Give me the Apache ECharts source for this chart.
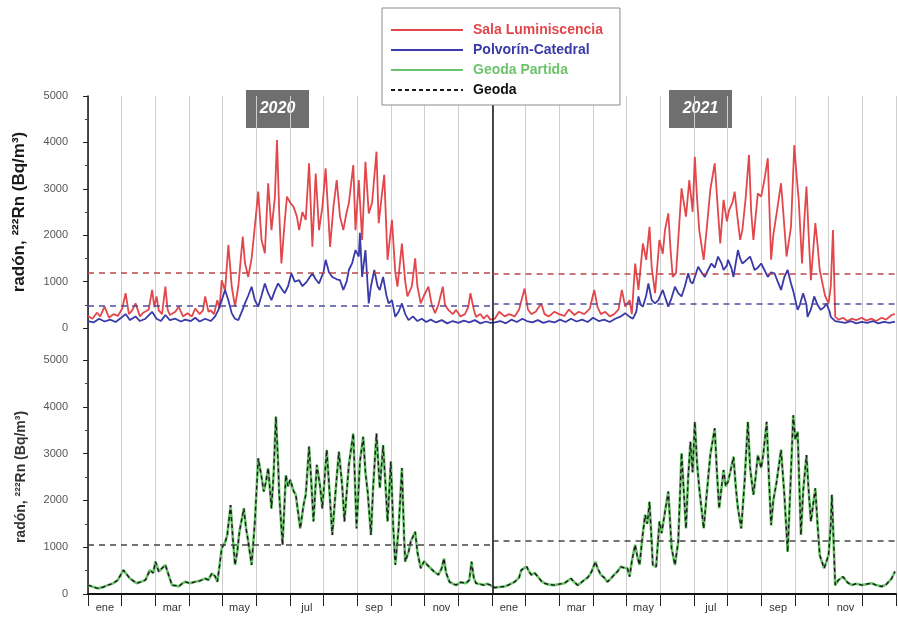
<!DOCTYPE html>
<html>
<head>
<meta charset="utf-8">
<script src="https://cdn.jsdelivr.net/npm/echarts@6/dist/echarts.min.js"></script>
<style>
  html, body { margin: 0; padding: 0; background: #ffffff; }
  #chart { width: 898px; height: 619px; }
</style>
</head>
<body>
<div id="chart"></div>
<script>
// Radon concentration (Bq/m³), days counted from 1 Jan 2020 (2021 starts at day 366).
const monthNames = ['ene', 'feb', 'mar', 'abr', 'may', 'jun', 'jul', 'ago', 'sep', 'oct', 'nov', 'dic'];
const years = ['2020', '2021'];
const yearStartDays = [0, 366, 731];

const salaLuminiscencia = [
  [0,260],[4,200],[8,330],[11,250],[15,460],[19,220],[23,300],[27,260],[31,420],[34,750],[37,300],[40,380],[43,530],[47,250],[50,330],[55,400],[58,820],[60,450],[62,680],[64,380],[67,300],[70,890],[72,400],[74,280],[79,350],[82,460],[86,250],[90,320],[94,250],[97,420],[101,300],[104,380],[106,680],[109,350],[111,380],[114,300],[117,600],[119,420],[121,1030],[124,800],[127,1790],[130,900],[133,460],[136,900],[140,1970],[142,1400],[145,1100],[148,1500],[151,2200],[154,2940],[157,1900],[160,1610],[163,3120],[166,2110],[169,2800],[171,4050],[173,2500],[175,1390],[178,2300],[180,2830],[183,2700],[186,2610],[189,2400],[191,2110],[194,2500],[197,2330],[200,3550],[203,1750],[206,3330],[209,2110],[212,2600],[215,3440],[219,1750],[222,2600],[225,3190],[228,2400],[231,2110],[234,2500],[236,2690],[240,3510],[242,2110],[245,3190],[248,1900],[251,3580],[254,2470],[257,2700],[261,3800],[263,2260],[266,2900],[268,3300],[271,1470],[275,2330],[278,1200],[280,890],[284,1820],[287,1000],[289,680],[293,900],[296,1500],[298,900],[301,530],[304,700],[308,890],[311,500],[314,320],[317,500],[321,890],[323,500],[326,390],[330,300],[333,390],[337,250],[341,300],[344,450],[346,750],[349,400],[351,240],[355,300],[358,200],[361,280],[364,180],
  [368,200],[372,350],[377,250],[381,300],[386,250],[390,400],[395,850],[398,400],[401,300],[405,350],[410,530],[413,300],[417,250],[422,350],[426,300],[431,260],[435,400],[440,280],[444,350],[449,300],[454,420],[458,820],[461,450],[464,300],[468,350],[472,250],[476,300],[480,400],[483,820],[486,460],[490,600],[492,300],[495,1390],[498,820],[502,1820],[505,1470],[508,2180],[510,1300],[513,750],[517,1900],[520,1600],[522,2110],[525,2470],[527,1700],[529,1100],[532,1180],[534,1900],[537,3010],[539,2700],[541,2400],[544,3190],[547,2500],[549,3690],[551,2800],[553,2110],[557,1470],[560,2200],[563,2980],[567,3550],[570,2500],[572,1820],[575,2760],[578,2300],[580,2540],[583,2700],[585,2940],[588,2300],[590,1900],[592,2110],[595,2800],[598,3730],[600,2500],[602,1900],[606,2900],[609,2830],[612,3200],[615,3660],[618,1470],[620,2000],[623,2470],[627,3120],[629,2500],[632,1540],[636,2180],[639,3940],[641,3300],[643,2760],[646,1390],[648,2300],[650,3050],[652,2000],[654,1030],[658,2260],[660,1800],[662,1250],[665,900],[667,680],[670,530],[672,900],[674,2110],[676,240],[679,180],[683,220],[687,150],[691,200],[695,170],[700,220],[704,160],[709,200],[713,150],[718,220],[722,180],[727,280],[730,300]
];

const polvorinCatedral = [
  [0,150],[5,120],[10,200],[15,140],[20,180],[25,130],[30,220],[34,300],[38,170],[43,250],[47,150],[52,200],[58,350],[62,200],[66,150],[70,280],[74,170],[79,200],[84,140],[88,180],[93,150],[97,220],[101,140],[106,200],[111,150],[115,250],[118,390],[121,600],[124,820],[127,600],[130,320],[133,200],[136,170],[140,400],[142,530],[145,700],[148,890],[151,600],[154,460],[157,700],[160,960],[163,750],[166,600],[169,800],[172,960],[175,850],[178,750],[181,900],[184,1180],[187,1000],[191,1030],[194,900],[198,1000],[203,1180],[206,1050],[209,960],[213,1200],[215,1470],[218,1200],[221,1100],[225,1050],[228,1030],[231,820],[234,1000],[236,1250],[239,1400],[242,1680],[245,1540],[246,2050],[248,1100],[251,1680],[254,530],[256,900],[259,1250],[262,900],[264,820],[267,1100],[270,700],[272,530],[275,600],[278,240],[281,350],[284,530],[287,300],[290,170],[294,250],[298,150],[302,200],[306,130],[310,180],[315,120],[320,170],[325,100],[330,150],[335,110],[340,160],[345,120],[350,170],[355,100],[360,140],[364,110],
  [368,120],[373,150],[378,100],[383,180],[388,130],[393,200],[397,150],[402,120],[407,170],[412,110],[417,150],[422,120],[427,180],[432,130],[437,200],[442,140],[447,180],[452,130],[457,220],[462,150],[467,180],[472,130],[477,200],[482,250],[486,320],[490,240],[493,200],[496,350],[498,680],[500,500],[502,460],[505,700],[507,960],[510,600],[513,530],[516,600],[520,820],[523,600],[525,460],[528,650],[531,890],[534,750],[537,680],[540,900],[543,1180],[545,1000],[547,960],[549,1100],[552,1320],[555,1200],[558,1100],[561,1250],[564,1390],[567,1300],[570,1540],[573,1400],[575,1250],[578,1350],[579,1470],[582,1300],[584,1100],[586,1400],[588,1680],[590,1500],[592,1390],[595,1450],[599,1540],[601,1400],[603,1250],[606,1300],[609,1390],[612,1250],[615,1100],[618,1200],[621,1180],[624,1000],[627,820],[630,1100],[633,1250],[636,960],[638,800],[642,390],[644,500],[647,750],[650,500],[651,240],[654,400],[657,680],[660,500],[663,390],[666,450],[668,530],[671,350],[672,240],[676,150],[680,130],[685,110],[690,150],[695,100],[700,130],[705,110],[710,150],[715,100],[720,130],[725,110],[730,140]
];

const geodaPartida = [
  [0,190],[5,150],[9,120],[14,150],[18,190],[23,230],[27,300],[32,510],[35,420],[38,330],[41,280],[44,230],[48,260],[52,300],[56,510],[59,450],[61,690],[64,480],[67,550],[70,620],[73,400],[76,190],[79,180],[82,160],[85,220],[88,260],[92,230],[97,260],[101,280],[106,330],[109,300],[112,440],[115,380],[117,260],[119,600],[121,980],[124,1100],[126,1260],[129,1900],[131,1200],[133,620],[135,900],[137,1330],[141,1830],[143,1400],[145,1120],[148,620],[151,1550],[154,2900],[157,2500],[159,2190],[161,2400],[163,2690],[166,1830],[168,2600],[170,3790],[172,2800],[173,2120],[176,1050],[179,2540],[181,2300],[183,2440],[186,2200],[188,2120],[192,1400],[195,1900],[197,2120],[200,3150],[202,2400],[204,1550],[207,2760],[210,2300],[212,1830],[216,3080],[219,2000],[221,1260],[224,2200],[227,3040],[230,2300],[232,1550],[236,2760],[240,3430],[243,1400],[246,2830],[249,3360],[251,2600],[253,2190],[256,1260],[258,2300],[261,3430],[264,2260],[267,3180],[269,2400],[271,1550],[274,2830],[276,1500],[278,620],[281,1400],[284,2690],[286,1200],[287,690],[290,900],[292,1120],[296,1330],[298,900],[301,550],[304,700],[307,620],[310,550],[313,480],[317,410],[320,550],[322,760],[324,450],[327,260],[330,220],[333,190],[337,250],[342,230],[345,300],[347,690],[349,350],[351,230],[355,210],[358,190],[361,220],[364,190],
  [368,135],[372,150],[377,160],[381,200],[386,260],[390,350],[392,510],[395,560],[397,580],[399,480],[401,410],[404,450],[407,370],[410,280],[413,230],[417,200],[422,190],[426,210],[431,230],[434,280],[437,330],[440,250],[443,190],[446,240],[449,300],[452,350],[454,410],[456,500],[459,690],[461,550],[464,410],[467,350],[470,260],[473,330],[476,410],[479,480],[482,580],[485,560],[488,550],[490,370],[492,700],[495,1050],[497,800],[499,620],[502,1300],[504,1690],[506,1500],[508,1970],[510,1100],[511,620],[514,580],[517,1550],[519,1300],[522,1760],[525,2190],[528,980],[531,620],[534,1120],[537,3010],[539,2200],[541,1400],[543,2500],[545,3250],[547,2600],[549,3680],[551,2800],[553,2260],[557,1400],[560,2200],[563,2970],[567,3540],[569,2600],[571,1830],[575,2650],[577,2300],[579,2400],[581,2600],[584,2930],[586,2300],[588,1830],[591,1400],[594,2400],[597,3680],[599,2700],[602,2120],[604,2500],[606,2970],[609,2690],[611,3000],[614,3680],[616,2500],[618,1470],[620,2000],[623,2400],[627,3080],[630,2120],[633,900],[636,2600],[638,3820],[640,3300],[642,3470],[645,1260],[647,2200],[650,2970],[652,2200],[654,1550],[658,2260],[660,1500],[662,830],[666,550],[670,830],[672,1500],[673,2120],[676,190],[679,300],[683,370],[687,250],[691,190],[695,220],[700,190],[704,210],[709,230],[713,190],[718,160],[722,200],[727,330],[730,480]
];

// The two Geoda probes track each other so closely that they share one reading set.
const geoda = geodaPartida;

// Annual mean levels, one value per year.
const meanSala = [1200, 1160];
const meanPolvorin = [480, 530];
const meanGeoda = [1050, 1130];

const yTicks = [0, 1000, 2000, 3000, 4000, 5000];

const FONT = 'Liberation Sans, Arial, sans-serif';
const RED = '#e2474b';
const BLUE = '#3a3aa8';
const GREEN = '#6cc36c';

const monthCategories = [];
years.forEach(y => monthNames.forEach(m => monthCategories.push(m + ' ' + y)));

function yearlyMeanLines(means, color, dash) {
  return {
    silent: true,
    symbol: 'none',
    label: { show: false },
    lineStyle: { color: color, type: dash, width: 1.5 },
    data: means.map((v, i) => [
      { coord: [yearStartDays[i], v] },
      { coord: [yearStartDays[i + 1], v] }
    ])
  };
}

const yName = 'radón, ²²²Rn (Bq/m³)';

function valueYAxis(gridIndex, nameSize, nameColor) {
  return {
    type: 'value', gridIndex: gridIndex,
    min: yTicks[0], max: yTicks[yTicks.length - 1], interval: 1000,
    name: yName, nameLocation: 'middle', nameGap: 60,
    nameTextStyle: { fontFamily: FONT, fontSize: nameSize, fontWeight: 'bold', color: nameColor },
    axisLine: { show: false },
    axisTick: { show: true, length: 5, lineStyle: { color: '#222' } },
    minorTick: { show: true, splitNumber: 2, length: 3, lineStyle: { color: '#444' } },
    splitLine: { show: false },
    axisLabel: {
      fontFamily: FONT, fontSize: 11, color: '#555', margin: 20,
      formatter: v => String(v)
    }
  };
}

const chart = echarts.init(document.getElementById('chart'), null, { renderer: 'canvas' });

chart.setOption({
  animation: false,
  backgroundColor: '#ffffff',
  grid: [
    { left: 88, width: 808, top: 96, bottom: 25 },          // frame: month grid and time axis
    { left: 88, width: 808, top: 96, height: 232 },         // upper panel
    { left: 88, width: 808, top: 360, height: 234 }         // lower panel
  ],
  xAxis: [
    {
      type: 'category', gridIndex: 0, data: monthCategories, boundaryGap: true,
      axisLine: { lineStyle: { color: '#111', width: 2 } },
      axisTick: { show: true, interval: 0, length: 12, lineStyle: { color: '#222', width: 1 } },
      axisLabel: {
        interval: 1, margin: 8, fontFamily: FONT, fontSize: 11, color: '#333',
        formatter: (v, i) => monthNames[i % 12]
      },
      splitLine: { show: true, interval: 0, lineStyle: { color: '#cfcfcf', width: 1 } }
    },
    { type: 'value', gridIndex: 0, min: 0, max: 731, show: false },
    { type: 'value', gridIndex: 1, min: 0, max: 731, show: false },
    { type: 'value', gridIndex: 2, min: 0, max: 731, show: false }
  ],
  yAxis: [
    {
      type: 'value', gridIndex: 0, min: 0, max: 1,
      axisLine: { show: true, lineStyle: { color: '#111', width: 1.5 } },
      axisTick: { show: false }, axisLabel: { show: false }, splitLine: { show: false }
    },
    valueYAxis(1, 17, '#1a1a1a'),
    valueYAxis(2, 14, '#333')
  ],
  legend: {
    orient: 'vertical',
    left: 382, top: 8,
    padding: [15, 17, 8, 8],
    itemGap: 6,
    itemWidth: 72, itemHeight: 13,
    backgroundColor: '#ffffff',
    borderColor: '#8a8a8a', borderWidth: 1,
    itemStyle: { opacity: 0 },
    textStyle: { fontFamily: FONT, fontSize: 14, fontWeight: 'bold', padding: [0, 0, 0, 5] },
    data: [
      { name: 'Sala Luminiscencia', textStyle: { color: RED } },
      { name: 'Polvorín-Catedral', textStyle: { color: BLUE } },
      { name: 'Geoda Partida', textStyle: { color: GREEN } },
      { name: 'Geoda', textStyle: { color: '#111' } }
    ],
    z: 10
  },
  graphic: years.map((y, i) => ({
    type: 'group',
    left: i === 0 ? 246 : 669,
    top: 90,
    z: 20,
    children: [
      { type: 'rect', shape: { x: 0, y: 0, width: 63, height: 38 }, style: { fill: '#6f6f6f' } },
      {
        type: 'text', x: 31.5, y: 19,
        style: {
          text: y, fill: '#ffffff', font: 'italic bold 16px ' + FONT,
          align: 'center', verticalAlign: 'middle'
        }
      }
    ]
  })),
  series: [
    {
      // year divider across both panels
      type: 'line', xAxisIndex: 1, yAxisIndex: 0, data: [], silent: true,
      markLine: {
        silent: true, symbol: 'none', label: { show: false },
        lineStyle: { color: '#111', type: 'solid', width: 1.5 },
        data: [{ xAxis: yearStartDays[1] }]
      }
    },
    {
      name: 'Sala Luminiscencia', type: 'line', xAxisIndex: 2, yAxisIndex: 1,
      data: salaLuminiscencia, showSymbol: false, symbol: 'none',
      lineStyle: { color: RED, width: 1.8 }, itemStyle: { color: RED },
      markLine: yearlyMeanLines(meanSala, '#b9474a', [6, 5]), z: 2
    },
    {
      name: 'Polvorín-Catedral', type: 'line', xAxisIndex: 2, yAxisIndex: 1,
      data: polvorinCatedral, showSymbol: false, symbol: 'none',
      lineStyle: { color: BLUE, width: 1.8 }, itemStyle: { color: BLUE },
      markLine: yearlyMeanLines(meanPolvorin, '#4d4d9e', [6, 5]), z: 3
    },
    {
      name: 'Geoda Partida', type: 'line', xAxisIndex: 3, yAxisIndex: 2,
      data: geodaPartida, showSymbol: false, symbol: 'none',
      lineStyle: { color: GREEN, width: 2.6 }, itemStyle: { color: GREEN }, z: 2
    },
    {
      name: 'Geoda', type: 'line', xAxisIndex: 3, yAxisIndex: 2,
      data: geoda, showSymbol: false, symbol: 'none',
      lineStyle: { color: '#1a1a1a', width: 1.4, type: [4, 3] }, itemStyle: { color: '#1a1a1a' },
      markLine: yearlyMeanLines(meanGeoda, '#444444', [6, 5]), z: 3
    }
  ]
});
</script>
</body>
</html>
